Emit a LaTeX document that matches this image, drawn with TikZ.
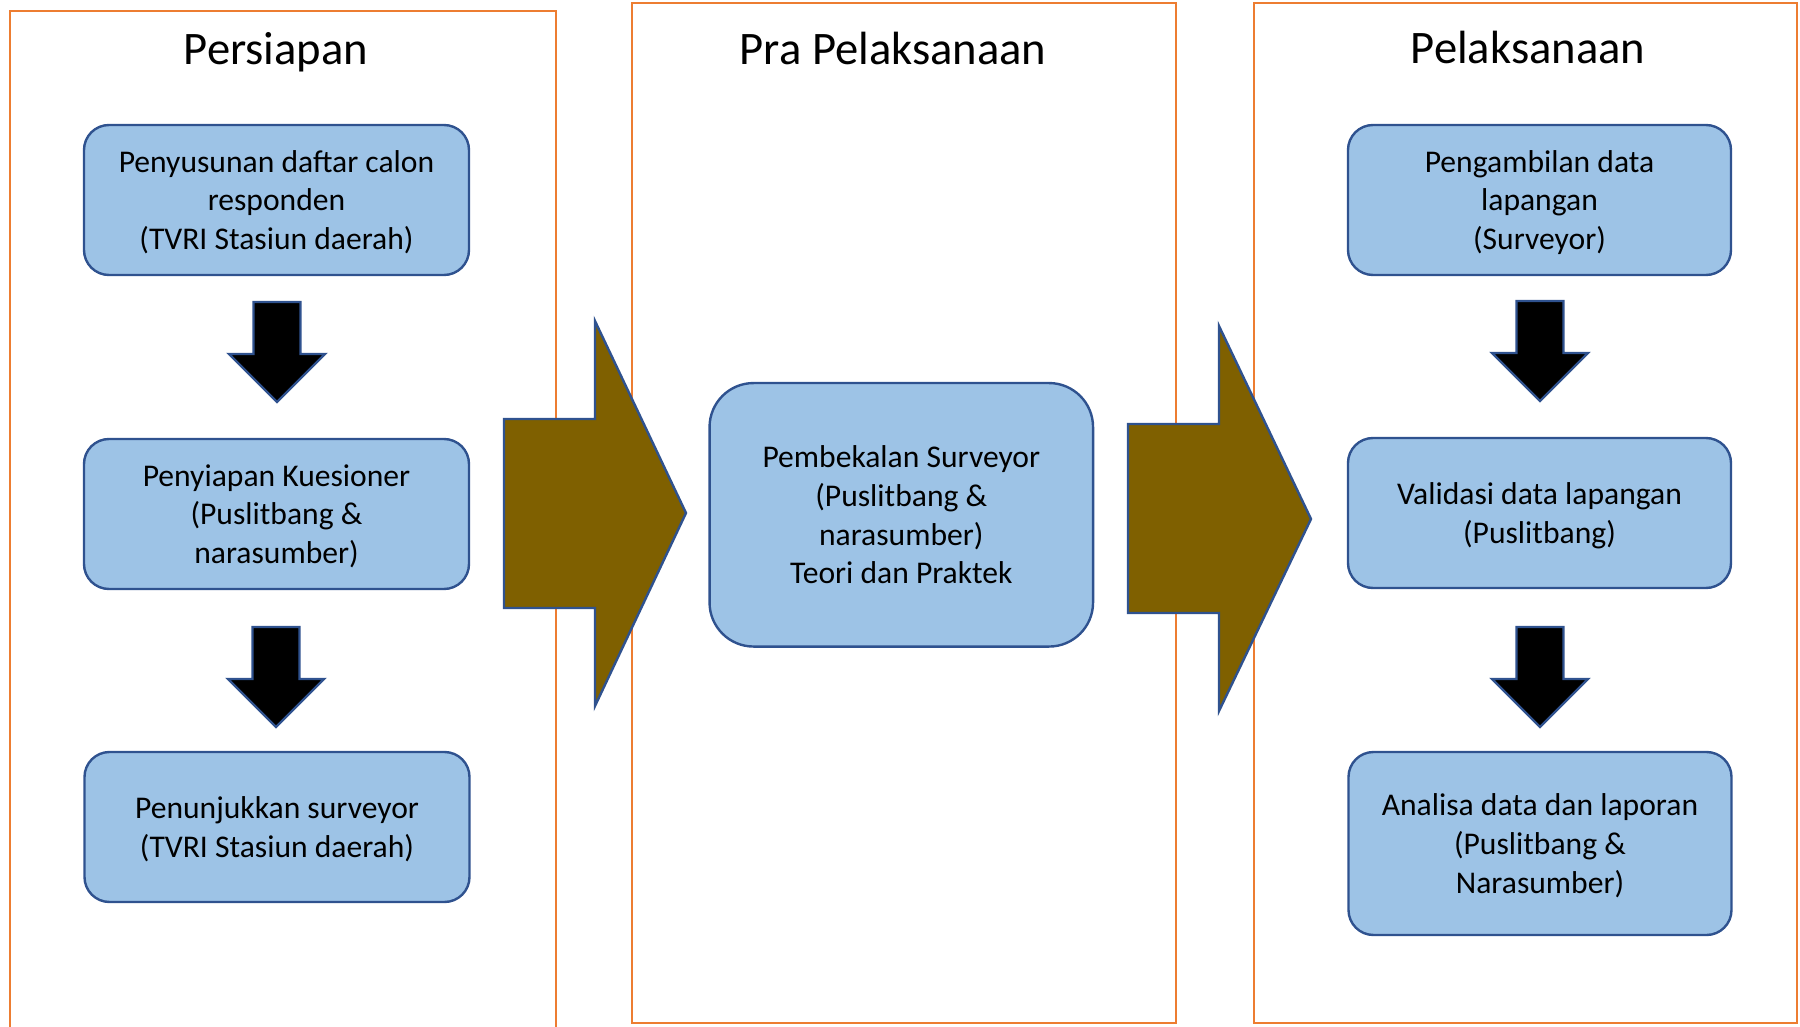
\documentclass[tikz,border=0pt]{standalone}
\usepackage{fontspec}
\setmainfont{Carlito}
\definecolor{boxfill}{HTML}{9DC3E6}
\definecolor{boxline}{HTML}{2F528F}
\definecolor{panelc}{HTML}{ED7D31}
\definecolor{arrbrown}{HTML}{7F6000}
\begin{document}
\begin{tikzpicture}[x=0.5pt,y=-0.5pt,
  panelbox/.style={draw=panelc, line width=1.1pt},
  stepbox/.style={draw=boxline, fill=boxfill, line width=1.2pt, rounded corners=12.5pt,
    align=center, font=\fontsize{15.8}{19.3}\selectfont, inner sep=0pt, text depth=0pt,
    minimum width=192.5pt, minimum height=75pt},
  titletext/.style={font=\fontsize{23.3}{28}\selectfont, anchor=base, inner sep=0pt},
  downarrow/.style={fill=black, draw=boxline, line width=1.2pt, line join=miter},
  bigarrow/.style={fill=arrbrown, draw=boxline, line width=1.2pt, line join=miter},
  pics/darrow/.style={code={
    \draw[downarrow] (-23.5,0) -- (23.5,0) -- (23.5,52) -- (48,52) -- (0,100)
      -- (-48,52) -- (-23.5,52) -- cycle;}}]
\useasboundingbox (0,0) rectangle (1800,1027);
% panels
\draw[panelbox] (10,1030) -- (10,11) -- (556,11) -- (556,1030);
\draw[panelbox] (632,3) rectangle (1176,1023);
\draw[panelbox] (1254,3) rectangle (1797,1023);
% titles
\node[titletext] (t1) at (276,65) {Persiapan};
\node[titletext] (t2) at (893,65) {Pra Pelaksanaan};
\node[titletext] (t3) at (1528,64) {Pelaksanaan};
% left column
\node[stepbox] (b1) at (276.5,200) {Penyusunan daftar calon\\responden\\(TVRI Stasiun daerah)};
\node[stepbox] (b2) at (276.5,514) {Penyiapan Kuesioner\\(Puslitbang \&\\narasumber)};
\node[stepbox] (b3) at (277,827) {Penunjukkan surveyor\\(TVRI Stasiun daerah)};
% middle
\node[stepbox, rounded corners=22pt, minimum width=191.75pt, minimum height=131.75pt] (m1) at (901.3,514.8)
  {Pembekalan Surveyor\\(Puslitbang \&\\narasumber)\\Teori dan Praktek};
% right column
\node[stepbox, minimum width=191.5pt] (r1) at (1539.5,200) {Pengambilan data\\lapangan\\(Surveyor)};
\node[stepbox, minimum width=191.5pt] (r2) at (1539.5,513) {Validasi data lapangan\\(Puslitbang)};
\node[stepbox, minimum width=191.5pt, minimum height=91.5pt] (r3) at (1540,843.5) {Analisa data dan laporan\\(Puslitbang \&\\Narasumber)};
% down arrows
\pic at (277,302) {darrow};
\pic at (276,627) {darrow};
\pic at (1540,301) {darrow};
\pic at (1540,627) {darrow};
% big arrows
\draw[bigarrow] (504,419) -- (595,419) -- (595,321) -- (686,513) -- (595,706)
  -- (595,608) -- (504,608) -- cycle;
\draw[bigarrow] (1128,424) -- (1219,424) -- (1219,326) -- (1311,519) -- (1219,711)
  -- (1219,613) -- (1128,613) -- cycle;
\end{tikzpicture}
\end{document}
